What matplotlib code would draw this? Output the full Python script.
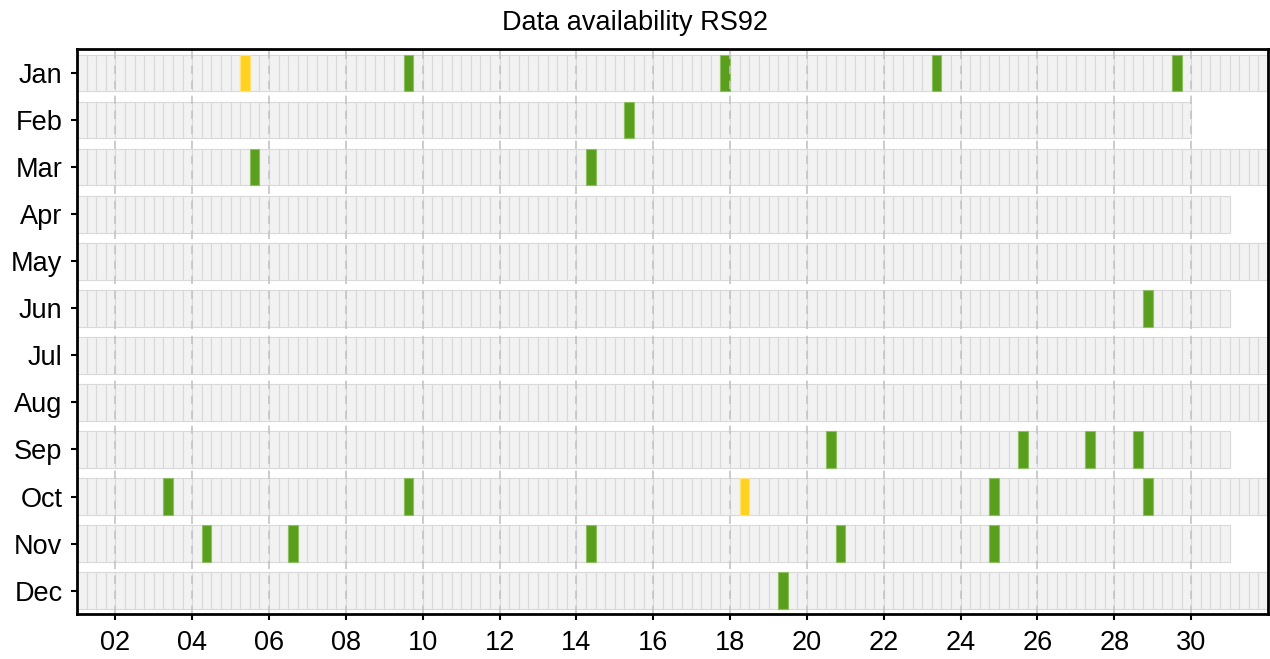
import matplotlib
matplotlib.use("Agg")
import matplotlib.pyplot as plt
import numpy as np

plt.rcParams['font.family'] = ['Liberation Sans', 'DejaVu Sans']

months = ['Jan', 'Feb', 'Mar', 'Apr', 'May', 'Jun', 'Jul', 'Aug', 'Sep', 'Oct', 'Nov', 'Dec']
days_in_month = [31, 29, 31, 30, 31, 30, 31, 31, 30, 31, 30, 31]
slot_hours = [0, 6, 12, 18]

# observations found (green): month index, day, hour
green_month = [0, 0, 0, 0, 1, 2, 2, 5, 8, 8, 8, 8, 9, 9, 9, 9, 10, 10, 10, 10, 10, 11]
green_day = [9, 17, 23, 29, 15, 5, 14, 28, 20, 25, 27, 28, 3, 9, 24, 28, 4, 6, 14, 20, 24, 19]
green_hour = [12, 18, 6, 12, 6, 12, 6, 18, 12, 12, 6, 12, 6, 12, 18, 18, 6, 12, 6, 18, 18, 6]

# partial observations (yellow)
yellow_month = [0, 9]
yellow_day = [5, 18]
yellow_hour = [6, 6]

tick_days = list(range(2, 31, 2))

fig = plt.figure(figsize=(12.7, 6.59), dpi=100)
ax = fig.add_axes([0.0606, 0.068, 0.9378, 0.857])

slot_w = 0.25
row_h = 0.78
edge = '#d9d9d9'

# background cells
ys, lefts = [], []
for m, nd in enumerate(days_in_month):
    for d in range(1, nd + 1):
        for h in slot_hours:
            ys.append(m)
            lefts.append(d + h / 24.0)
ax.barh(ys, [slot_w] * len(ys), left=lefts, height=row_h, color='#f2f2f2',
        edgecolor=edge, linewidth=0.8, zorder=1)

ax.barh(green_month, [slot_w] * len(green_month),
        left=[d + h / 24.0 for d, h in zip(green_day, green_hour)],
        height=row_h, color='#5a9e1e', edgecolor='#8cbf5e', linewidth=0.8, zorder=1.2)
ax.barh(yellow_month, [slot_w] * len(yellow_month),
        left=[d + h / 24.0 for d, h in zip(yellow_day, yellow_hour)],
        height=row_h, color='#ffd21f', edgecolor='#ffe27a', linewidth=0.8, zorder=1.2)

ax.set_xlim(1, 32)
ax.set_ylim(11.5, -0.5)
ax.set_xticks(tick_days)
ax.set_xticklabels([f"{d:02d}" for d in tick_days], fontsize=19.5)
ax.set_yticks(range(len(months)))
ax.set_yticklabels(months, fontsize=19.5)
ax.xaxis.grid(True, linestyle=(0, (5, 4)), color='#c4c4c4', linewidth=1.2, zorder=1.5)
ax.tick_params(axis='both', length=4.5, width=1.5, color='black')
ax.tick_params(axis='x', pad=7)
ax.tick_params(axis='y', pad=6)
for s in ax.spines.values():
    s.set_linewidth(2)
    s.set_color('black')
fig.text(0.5, 1 - 30 / 659, 'Data availability RS92', fontsize=19.5,
         ha='center', va='baseline')

fig.savefig('out.png', dpi=100)
